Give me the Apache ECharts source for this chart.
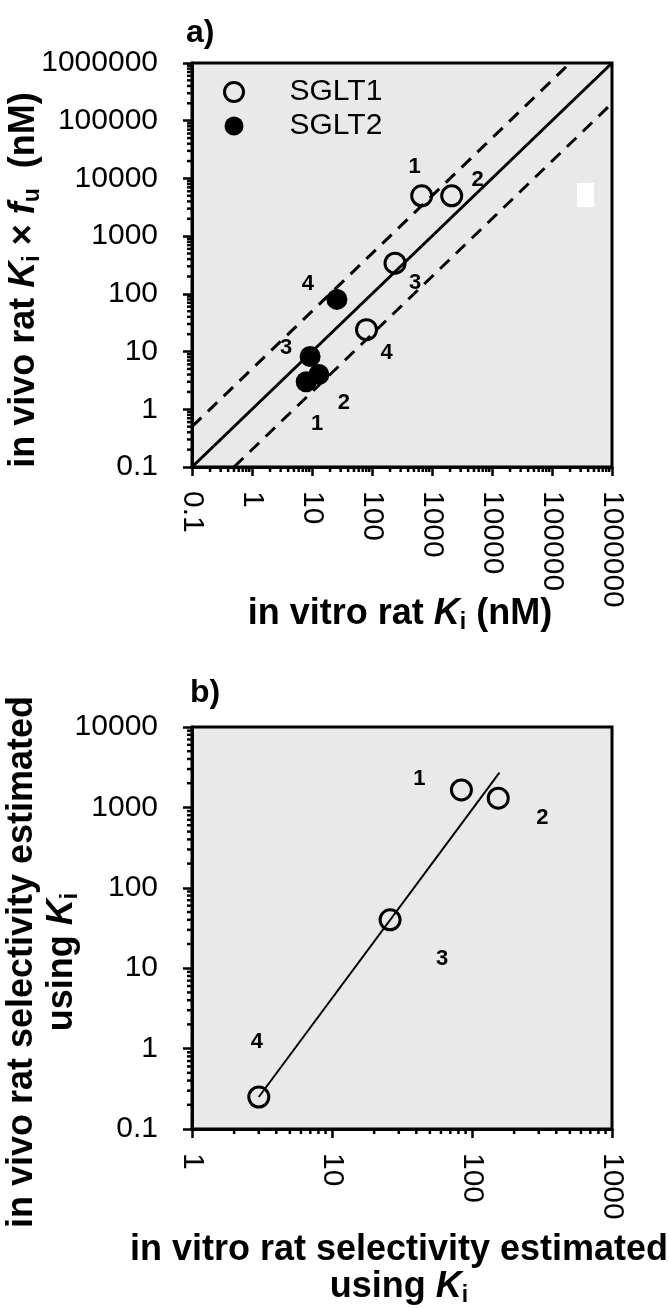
<!DOCTYPE html>
<html>
<head>
<meta charset="utf-8">
<script src="https://cdn.jsdelivr.net/npm/echarts@6/dist/echarts.min.js"></script>
<style>
html,body{margin:0;padding:0;background:#fff;}
#c{width:670px;height:1308px;}
</style>
</head>
<body>
<div id="c"></div>
<script>
// ---------- DATA ----------
// Panel a) in vitro Ki (x) vs in vivo Ki*fu (y), nM
const aTickLabels = ['0.1', '1', '10', '100', '1000', '10000', '100000', '1000000'];
const sglt1Ids = ['1', '2', '3', '4'];
const sglt1X = [673, 2130, 242, 81];
const sglt1Y = [5000, 5000, 340, 24];
const sglt2Ids = ['1', '2', '3', '4'];
const sglt2X = [8.0, 13, 9.3, 26];
const sglt2Y = [3.0, 4.0, 8.2, 80];
const unityX = [0.1, 1000000];
const unityY = [0.1, 1000000];
const upperX = [0.1, 200000];
const upperY = [0.5, 1000000];
const lowerX = [0.5, 1000000];
const lowerY = [0.1, 200000];

// Panel b) selectivity
const bXTickLabels = ['1', '10', '100', '1000'];
const bYTickLabels = ['0.1', '1', '10', '100', '1000', '10000'];
const selIds = ['1', '2', '3', '4'];
const selX = [84, 154, 26, 3.0];
const selY = [1650, 1300, 40, 0.25];
const fitX = [3.0, 157];
const fitY = [0.25, 2700];

// ---------- LAYOUT / STYLE ----------
const sglt1LabelOffsets = [[-7, -29], [26, -16], [20, 20], [20, 23]];
const sglt2LabelOffsets = [[11, 42], [25, 28], [-24, -9], [-29, -16]];
const selLabelOffsets = [[-42, -11], [44, 20], [52, 39], [-2, -55]];
const FONT = '"Liberation Sans", Arial, Helvetica, sans-serif';
const BG = '#e9e9e9';

function minorValues(minExp, maxExp) {
  const out = [];
  for (let e = minExp; e < maxExp; e++) {
    for (let m = 2; m <= 9; m++) out.push(m * Math.pow(10, e));
  }
  return out;
}
function fmt(labels, minExp) {
  return function (v) {
    const i = Math.round(Math.log10(v)) - minExp;
    return labels[i] !== undefined ? labels[i] : '';
  };
}
function pts(xs, ys, ids, offs) {
  return xs.map((x, i) => ({
    value: [x, ys[i]],
    label: { show: true, position: 'inside', offset: offs[i], formatter: ids[i] }
  }));
}
function line(xs, ys) { return xs.map((x, i) => [x, ys[i]]); }

const axisCommon = {
  type: 'log', logBase: 10, splitNumber: 10,
  axisLine: { show: true, lineStyle: { color: '#000', width: 3 } },
  axisTick: { show: true, inside: false, length: 9, lineStyle: { color: '#000', width: 2.5 } },
  splitLine: { show: false },
  minorTick: { show: false },
  axisLabel: { color: '#000', fontFamily: FONT, fontSize: 30 }
};

function minorTickSeries(axisIdx, dir, values, axMin, len) {
  return {
    type: 'custom', xAxisIndex: axisIdx, yAxisIndex: axisIdx, silent: true, clip: false, z: 5,
    data: values.map(v => [v]),
    renderItem: function (params, api) {
      const v = api.value(0);
      if (dir === 'x') {
        const p = api.coord([v, axMin]);
        return { type: 'line', shape: { x1: p[0], y1: p[1], x2: p[0], y2: p[1] + len }, style: { stroke: '#000', lineWidth: 2.5 } };
      } else {
        const p = api.coord([axMin, v]);
        return { type: 'line', shape: { x1: p[0], y1: p[1], x2: p[0] - len, y2: p[1] }, style: { stroke: '#000', lineWidth: 2.5 } };
      }
    }
  };
}

const labelStyle = { color: '#000', fontFamily: FONT, fontSize: 22, fontWeight: 'bold' };
const rich = {
  n: { fontFamily: FONT, fontSize: 36, fontWeight: 'bold', color: '#000' },
  i: { fontFamily: FONT, fontSize: 36, fontWeight: 'bold', fontStyle: 'italic', color: '#000' },
  s: { fontFamily: FONT, fontSize: 23, fontWeight: 'bold', color: '#000', padding: [18, 0, 0, 0] }
};
function titleText(x, y, text, rot) {
  return { type: 'text', x: x, y: y, rotation: rot || 0,
    style: { text: text, rich: rich, align: 'center', verticalAlign: 'middle', textAlign: 'center', textVerticalAlign: 'middle' } };
}

const chart = echarts.init(document.getElementById('c'), null, { renderer: 'canvas' });
chart.setOption({
  backgroundColor: '#fff',
  animation: false,
  title: [
    { text: 'a)', left: 181, top: 12, textStyle: { fontFamily: FONT, fontSize: 32, fontWeight: 'bold', color: '#000' } },
    { text: 'b)', left: 185, top: 672, textStyle: { fontFamily: FONT, fontSize: 32, fontWeight: 'bold', color: '#000' } }
  ],
  legend: {
    orient: 'vertical', left: 218, top: 72, itemGap: 4,
    itemWidth: 19, itemHeight: 19,
    data: [
      { name: 'SGLT1', icon: 'circle', itemStyle: { color: 'transparent', borderColor: '#000', borderWidth: 3 } },
      { name: 'SGLT2', icon: 'circle', itemStyle: { color: '#000', borderWidth: 0 } }
    ],
    textStyle: { fontFamily: FONT, fontSize: 30, color: '#000', padding: [0, 0, 0, 41] }
  },
  grid: [
    { left: 192, top: 63, width: 420, height: 404, show: true, backgroundColor: BG, borderColor: '#000', borderWidth: 3 },
    { left: 192, top: 727, width: 420, height: 402, show: true, backgroundColor: BG, borderColor: '#000', borderWidth: 3 }
  ],
  xAxis: [
    Object.assign({}, axisCommon, { gridIndex: 0, min: 0.1, max: 1000000,
      axisLabel: Object.assign({}, axisCommon.axisLabel, { rotate: -90, margin: 24, formatter: fmt(aTickLabels, -1) }) }),
    Object.assign({}, axisCommon, { gridIndex: 1, min: 1, max: 1000,
      axisLabel: Object.assign({}, axisCommon.axisLabel, { rotate: -90, margin: 24, formatter: fmt(bXTickLabels, 0) }) })
  ],
  yAxis: [
    Object.assign({}, axisCommon, { gridIndex: 0, min: 0.1, max: 1000000,
      axisLabel: Object.assign({}, axisCommon.axisLabel, { margin: 34, formatter: fmt(aTickLabels, -1) }) }),
    Object.assign({}, axisCommon, { gridIndex: 1, min: 0.1, max: 10000,
      axisLabel: Object.assign({}, axisCommon.axisLabel, { margin: 34, formatter: fmt(bYTickLabels, -1) }) })
  ],
  graphic: [
    { type: 'rect', shape: { x: 577, y: 183, width: 17, height: 24 }, style: { fill: '#fff' }, z: 10 },
    titleText(400, 614, '{n|in vitro rat }{i|K}{s|i}{n| (nM)}'),
    titleText(24, 280, '{n|in vivo rat }{i|K}{s|i}{n| × }{i|f}{s|u}{n|  (nM)}', Math.PI / 2),
    titleText(399, 1250, '{n|in vitro rat selectivity estimated}'),
    titleText(399, 1287, '{n|using }{i|K}{s|i}'),
    titleText(22, 962, '{n|in vivo rat selectivity estimated}', Math.PI / 2),
    titleText(62, 962, '{n|using }{i|K}{s|i}', Math.PI / 2)
  ],
  series: [
    minorTickSeries(0, 'x', minorValues(-1, 6), 0.1, 5),
    minorTickSeries(0, 'y', minorValues(-1, 6), 0.1, 5),
    minorTickSeries(1, 'x', minorValues(0, 3), 0.1, 5),
    minorTickSeries(1, 'y', minorValues(-1, 4), 1, 5),
    { type: 'line', xAxisIndex: 0, yAxisIndex: 0, data: line(unityX, unityY), symbol: 'none', silent: true,
      lineStyle: { color: '#000', width: 3 }, z: 2 },
    { type: 'line', xAxisIndex: 0, yAxisIndex: 0, data: line(upperX, upperY), symbol: 'none', silent: true,
      lineStyle: { color: '#000', width: 3, type: [13, 9] }, z: 2 },
    { type: 'line', xAxisIndex: 0, yAxisIndex: 0, data: line(lowerX, lowerY), symbol: 'none', silent: true,
      lineStyle: { color: '#000', width: 3, type: [13, 9] }, z: 2 },
    { name: 'SGLT1', type: 'scatter', xAxisIndex: 0, yAxisIndex: 0, symbol: 'circle', symbolSize: 20,
      itemStyle: { color: 'transparent', borderColor: '#000', borderWidth: 3, opacity: 1 },
      label: labelStyle, data: pts(sglt1X, sglt1Y, sglt1Ids, sglt1LabelOffsets), z: 4 },
    { name: 'SGLT2', type: 'scatter', xAxisIndex: 0, yAxisIndex: 0, symbol: 'circle', symbolSize: 21,
      itemStyle: { color: '#000', opacity: 1 },
      label: labelStyle, data: pts(sglt2X, sglt2Y, sglt2Ids, sglt2LabelOffsets), z: 4 },
    { type: 'line', xAxisIndex: 1, yAxisIndex: 1, data: line(fitX, fitY), symbol: 'none', silent: true,
      lineStyle: { color: '#000', width: 2 }, z: 2 },
    { name: 'selectivity', type: 'scatter', xAxisIndex: 1, yAxisIndex: 1, symbol: 'circle', symbolSize: 20,
      itemStyle: { color: 'transparent', borderColor: '#000', borderWidth: 3, opacity: 1 },
      label: labelStyle, data: pts(selX, selY, selIds, selLabelOffsets), z: 4 }
  ]
});
</script>
</body>
</html>
